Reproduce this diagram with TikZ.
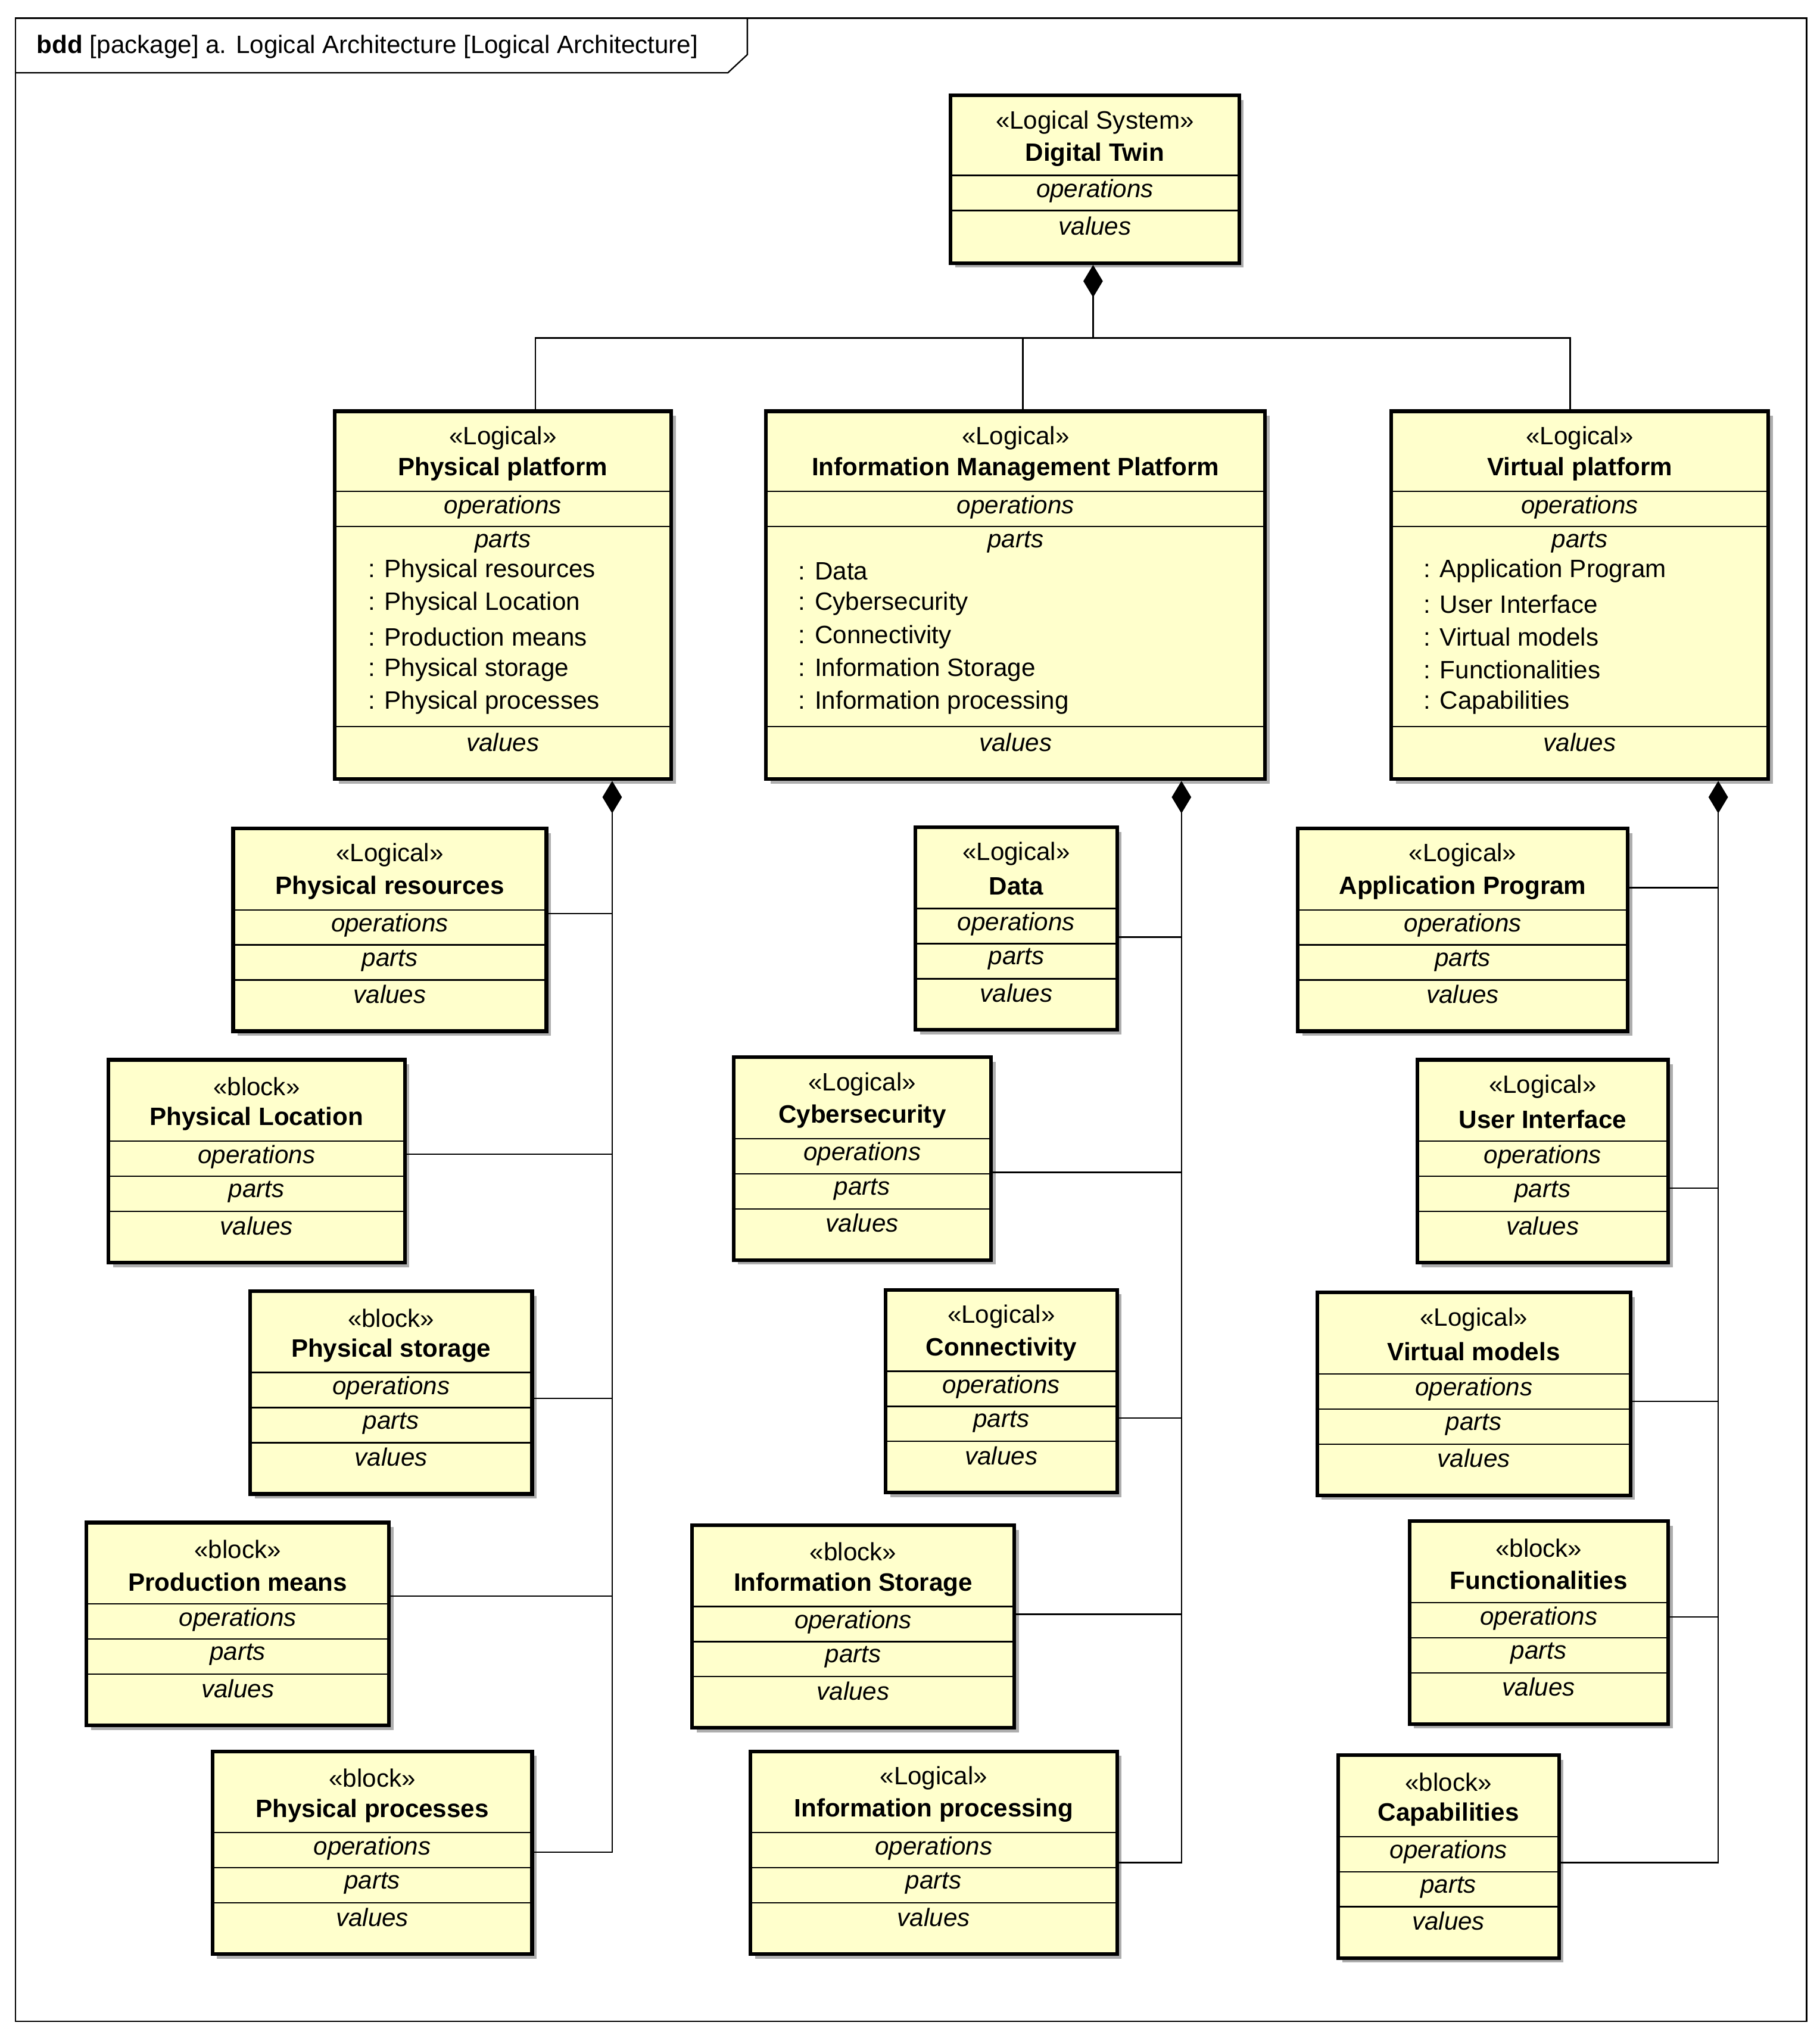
\documentclass[tikz,border=0pt]{standalone}
\usepackage{fontspec}
\setmainfont{Liberation Sans}
\usetikzlibrary{arrows.meta,shadows}
\definecolor{umlyellow}{RGB}{255,255,204}
\tikzset{
  blk/.style={draw, line width=1.6pt, fill=umlyellow, inner sep=0pt,
    drop shadow={shadow xshift=0.07cm, shadow yshift=-0.07cm, fill=black!45, opacity=0.7}},
  sep/.style={line width=0.6pt},
  txt/.style={inner sep=0pt, font=\fontsize{11}{13}\selectfont},
  ttl/.style={txt, font=\fontsize{11}{13}\selectfont\bfseries},
  itl/.style={txt, font=\fontsize{11}{13}\selectfont\itshape},
  comp/.style={line width=0.6pt, {Diamond[length=0.5cm,width=0.3cm]}-},
  line/.style={line width=0.6pt}
}
% small block: name, x1, x2, top, stereotype, title
\newcommand\partblock[6]{%
  \node[blk, minimum width={(#3-#2)*0.02cm}, minimum height={156*0.02cm}, anchor=north west] (#1) at (#2,#4) {};
  \path (#1.north) ++(0,22) node[txt] {«#5»};
  \path (#1.north) ++(0,47) node[ttl] {#6};
  \path (#1.north) ++(0,76) node[itl] {operations};
  \path (#1.north) ++(0,103) node[itl] {parts};
  \path (#1.north) ++(0,129) node[itl] {values};
  \draw[sep] (#1.north west) ++(0,64) -- ++(#3-#2,0);
  \draw[sep] (#1.north west) ++(0,91) -- ++(#3-#2,0);
  \draw[sep] (#1.north west) ++(0,118) -- ++(#3-#2,0);
}
% large block: name, x1, x2, title, item x, items
\newcommand\bigblock[6]{%
  \node[blk, minimum width={(#3-#2)*0.02cm}, minimum height={283*0.02cm}, anchor=north west] (#1) at (#2,315) {};
  \path (#1.north) ++(0,22) node[txt] {«Logical»};
  \path (#1.north) ++(0,46) node[ttl] {#4};
  \path (#1.north) ++(0,75) node[itl] {operations};
  \path (#1.north) ++(0,102) node[itl] {parts};
  \path (#1.north) ++(0,256) node[itl] {values};
  \draw[sep] (#1.north west) ++(0,63) -- ++(#3-#2,0);
  \draw[sep] (#1.north west) ++(0,90) -- ++(#3-#2,0);
  \draw[sep] (#1.north west) ++(0,244) -- ++(#3-#2,0);
  \foreach \t [count=\i] in {#6}
    \node[txt, anchor=west] at (#5,{414+25.3*\i}) {: \t};
}
\begin{document}
\begin{tikzpicture}[x=0.02cm, y=-0.02cm]
\useasboundingbox (0,0) rectangle (1400,1568);
% frame
\draw[line width=0.6pt] (12,14) rectangle (1390,1555);
\draw[line width=0.6pt] (12,56) -- (560,56) -- (575,42) -- (575,14);
\node[txt, anchor=west] at (28,36) {\textbf{bdd} [package] a. Logical Architecture [Logical Architecture]};

% top block
\node[blk, minimum width={222*0.02cm}, minimum height={129*0.02cm}, anchor=north west] (dt) at (730,72) {};
\path (dt.north) ++(0,22) node[txt] {«Logical System»};
\path (dt.north) ++(0,47) node[ttl] {Digital Twin};
\path (dt.north) ++(0,75) node[itl] {operations};
\path (dt.north) ++(0,102) node[itl] {values};
\draw[sep] (dt.north west) ++(0,63) -- ++(222,0);
\draw[sep] (dt.north west) ++(0,90) -- ++(222,0);

% second level
\bigblock{pp}{256}{515}{Physical platform}{283}{Physical resources,Physical Location,Production means,Physical storage,Physical processes}
\bigblock{imp}{588}{972}{Information Management Platform}{614}{Data,Cybersecurity,Connectivity,Information Storage,Information processing}
\bigblock{vp}{1069}{1359}{Virtual platform}{1095}{Application Program,User Interface,Virtual models,Functionalities,Capabilities}

% parts
\partblock{prs}{178}{419}{636}{Logical}{Physical resources}
\partblock{ploc}{82}{310}{814}{block}{Physical Location}
\partblock{pst}{191}{408}{992}{block}{Physical storage}
\partblock{pmn}{65}{298}{1170}{block}{Production means}
\partblock{ppr}{162}{408}{1346}{block}{Physical processes}

\partblock{data}{703}{858}{635}{Logical}{Data}
\partblock{cyb}{563}{761}{812}{Logical}{Cybersecurity}
\partblock{con}{680}{858}{991}{Logical}{Connectivity}
\partblock{ist}{531}{779}{1172}{block}{Information Storage}
\partblock{ipr}{576}{858}{1346}{Logical}{Information processing}

\partblock{app}{997}{1251}{636}{Logical}{Application Program}
\partblock{ui}{1089}{1282}{814}{Logical}{User Interface}
\partblock{vm}{1012}{1253}{993}{Logical}{Virtual models}
\partblock{fun}{1083}{1282}{1169}{block}{Functionalities}
\partblock{cap}{1028}{1198}{1349}{block}{Capabilities}

% composition: top
\coordinate (dtj) at (841,260);
\draw[comp] (dt.south -| dtj) -- (dtj);
\draw[line] (pp.north -| 412,0) |- (dtj) -| (vp.north -| 1208,0);
\draw[line] (imp.north -| 787,0) -- (787,260);

% composition: left
\coordinate (ppt) at (471,1425);
\draw[comp] (pp.south -| ppt) -- (ppt) -- (ppr.east |- ppt);
\foreach \n/\y in {prs/703, ploc/888, pst/1076, pmn/1228}
  \draw[line] (\n.east |- 0,\y) -- (471,\y);

% composition: middle
\coordinate (impt) at (909,1433);
\draw[comp] (imp.south -| impt) -- (impt) -- (ipr.east |- impt);
\foreach \n/\y in {data/721, cyb/902, con/1091, ist/1242}
  \draw[line] (\n.east |- 0,\y) -- (909,\y);

% composition: right
\coordinate (vpt) at (1322,1433);
\draw[comp] (vp.south -| vpt) -- (vpt) -- (cap.east |- vpt);
\foreach \n/\y in {app/683, ui/914, vm/1078, fun/1244}
  \draw[line] (\n.east |- 0,\y) -- (1322,\y);
\end{tikzpicture}
\end{document}
